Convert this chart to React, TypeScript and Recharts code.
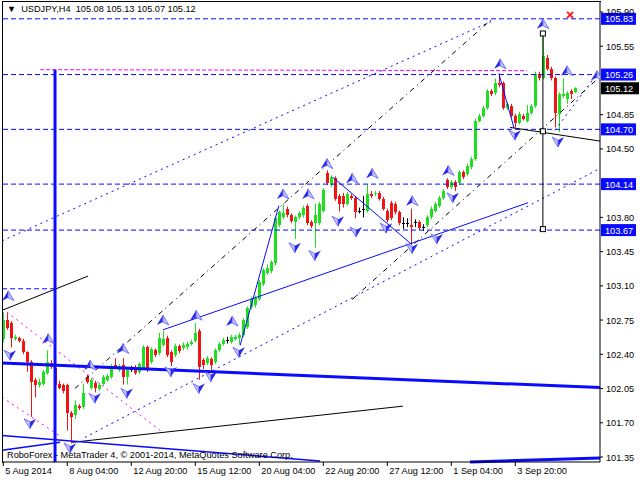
import React from 'react';
import { ComposedChart, Bar, Scatter, XAxis, YAxis, ReferenceLine, ReferenceDot } from 'recharts';

// USDJPY H4 candles
const opens = [
  102.56, 102.75, 102.72, 102.56, 102.57, 102.54, 102.42, 102.32, 102.14, 102.09,
  102.10, 102.21, 102.31, 102.26, 102.10, 102.09, 102.09, 101.80, 101.78, 101.87,
  101.86, 102.17, 102.06, 102.11, 102.05, 102.10, 102.14, 102.17, 102.29, 102.24,
  102.29, 102.17, 102.25, 102.27, 102.22, 102.26, 102.47, 102.32, 102.44, 102.41,
  102.50, 102.57, 102.42, 102.39, 102.48, 102.46, 102.47, 102.51, 102.54, 102.64,
  102.34, 102.31, 102.35, 102.32, 102.44, 102.51, 102.55, 102.53, 102.56, 102.57,
  102.60, 102.68, 102.88, 102.90, 102.97, 103.12, 103.23, 103.25, 103.33, 103.72,
  103.80, 103.89, 103.82, 103.75, 103.80, 103.82, 103.92, 103.75, 103.74, 103.74,
  103.87, 104.25, 104.13, 104.20, 104.02, 104.02, 103.94, 104.02, 104.00, 103.87,
  103.89, 103.87, 104.04, 104.04, 104.05, 103.99, 103.87, 103.95, 103.94, 103.85,
  103.74, 103.74, 103.72, 103.75, 103.75, 103.70, 103.72, 103.80, 103.87, 103.92,
  104.00, 104.18, 104.11, 104.16, 104.15, 104.26, 104.24, 104.31, 104.40, 104.79,
  104.84, 104.92, 105.09, 105.07, 105.17, 105.17, 104.92, 104.94, 104.84, 104.77,
  104.84, 104.79, 104.87, 104.94, 105.27, 105.23, 105.43, 105.32, 105.22, 104.86,
  105.04, 105.01, 105.09, 105.08,
];
const highs = [
  102.83, 102.82, 102.74, 102.60, 102.58, 102.56, 102.43, 102.34, 102.16, 102.15,
  102.24, 102.44, 102.34, 102.28, 102.13, 102.10, 102.10, 101.82, 101.93, 101.89,
  102.10, 102.19, 102.16, 102.13, 102.11, 102.19, 102.20, 102.30, 102.36, 102.30,
  102.36, 102.26, 102.28, 102.29, 102.32, 102.49, 102.49, 102.47, 102.46, 102.62,
  102.64, 102.59, 102.44, 102.51, 102.50, 102.52, 102.53, 102.55, 102.72, 102.66,
  102.36, 102.38, 102.37, 102.46, 102.53, 102.57, 102.58, 102.60, 102.60, 102.62,
  102.77, 102.89, 102.99, 103.00, 103.16, 103.28, 103.32, 103.36, 103.81, 103.87,
  103.94, 103.91, 103.84, 103.82, 103.86, 103.92, 103.94, 103.77, 103.94, 103.96,
  104.10, 104.28, 104.23, 104.22, 104.04, 104.05, 104.06, 104.04, 104.02, 103.90,
  104.02, 104.14, 104.07, 104.07, 104.07, 104.01, 103.89, 103.97, 103.96, 103.87,
  103.80, 103.79, 103.89, 103.78, 103.77, 103.73, 103.82, 103.91, 103.96, 104.02,
  104.09, 104.20, 104.18, 104.18, 104.28, 104.28, 104.35, 104.42, 104.81, 104.86,
  104.94, 105.11, 105.11, 105.22, 105.27, 105.19, 104.98, 104.96, 104.86, 104.88,
  104.86, 104.95, 104.96, 105.29, 105.29, 105.68, 105.46, 105.34, 105.24, 105.08,
  105.22, 105.09, 105.11, 105.13,
];
const lows = [
  102.52, 102.65, 102.47, 102.54, 102.52, 102.40, 102.22, 101.76, 101.96, 102.06,
  102.08, 102.19, 102.25, 102.07, 102.04, 102.00, 101.62, 101.49, 101.74, 101.83,
  101.84, 102.10, 102.04, 102.01, 102.03, 102.08, 102.12, 102.15, 102.25, 102.22,
  102.09, 102.09, 102.22, 102.19, 102.20, 102.24, 102.22, 102.30, 102.37, 102.39,
  102.48, 102.37, 102.28, 102.37, 102.41, 102.44, 102.45, 102.49, 102.52, 102.14,
  102.25, 102.29, 102.24, 102.30, 102.42, 102.49, 102.51, 102.51, 102.54, 102.50,
  102.58, 102.66, 102.86, 102.88, 102.95, 103.10, 103.21, 103.23, 103.31, 103.70,
  103.78, 103.80, 103.74, 103.58, 103.78, 103.80, 103.72, 103.69, 103.49, 103.72,
  103.85, 104.13, 104.11, 103.97, 103.86, 103.90, 103.92, 103.98, 103.79, 103.84,
  103.80, 103.85, 104.00, 104.02, 103.97, 103.87, 103.75, 103.77, 103.83, 103.72,
  103.68, 103.70, 103.53, 103.70, 103.67, 103.66, 103.70, 103.78, 103.85, 103.90,
  103.98, 104.09, 104.09, 104.07, 104.13, 104.19, 104.22, 104.29, 104.38, 104.77,
  104.82, 104.90, 105.04, 105.05, 105.13, 104.90, 104.90, 104.82, 104.72, 104.75,
  104.79, 104.77, 104.85, 104.92, 105.20, 105.21, 105.30, 105.20, 104.72, 104.67,
  105.02, 104.96, 105.01, 105.07,
];
const closes = [
  102.75, 102.67, 102.57, 102.58, 102.54, 102.42, 102.32, 102.12, 102.09, 102.12,
  102.22, 102.32, 102.27, 102.09, 102.06, 102.03, 101.80, 101.76, 101.88, 101.85,
  102.00, 102.12, 102.14, 102.06, 102.09, 102.17, 102.18, 102.28, 102.27, 102.28,
  102.17, 102.24, 102.25, 102.21, 102.30, 102.47, 102.24, 102.45, 102.39, 102.57,
  102.56, 102.39, 102.32, 102.49, 102.43, 102.50, 102.51, 102.53, 102.62, 102.27,
  102.29, 102.36, 102.29, 102.44, 102.51, 102.55, 102.55, 102.58, 102.58, 102.60,
  102.75, 102.87, 102.97, 102.98, 103.14, 103.26, 103.28, 103.34, 103.79, 103.85,
  103.84, 103.82, 103.76, 103.80, 103.84, 103.90, 103.74, 103.71, 103.82, 103.94,
  104.08, 104.15, 104.21, 103.99, 103.94, 103.94, 104.04, 104.00, 103.85, 103.87,
  103.89, 104.04, 104.02, 104.05, 103.99, 103.89, 103.77, 103.79, 103.85, 103.74,
  103.74, 103.74, 103.70, 103.75, 103.69, 103.70, 103.80, 103.89, 103.94, 104.00,
  104.07, 104.11, 104.16, 104.11, 104.26, 104.21, 104.33, 104.40, 104.79, 104.84,
  104.92, 105.09, 105.06, 105.17, 105.15, 104.92, 104.96, 104.84, 104.77, 104.86,
  104.81, 104.87, 104.94, 105.27, 105.22, 105.45, 105.32, 105.22, 104.87, 105.06,
  105.06, 105.07, 105.06, 105.12,
];

const timeTicks = [0, 16, 32, 48, 64, 80, 96, 112, 128];
const timeLabels = ['5 Aug 2014', '8 Aug 04:00', '12 Aug 20:00', '15 Aug 12:00', '20 Aug 04:00', '22 Aug 20:00', '27 Aug 12:00', '1 Sep 04:00', '3 Sep 20:00'];
const priceTicks = [105.9, 105.55, 104.85, 104.5, 103.8, 103.45, 103.1, 102.75, 102.4, 102.05, 101.7, 101.35];

const levels = [105.83, 105.26, 104.7, 104.14, 103.67];
const lastPrice = 105.12;

// fractal arrows: bar index, price
const upFractals = [
  { i: 1.2, p: 103.0 }, { i: 11.2, p: 102.56 }, { i: 21.7, p: 102.29 }, { i: 29.9, p: 102.46 },
  { i: 39.9, p: 102.75 }, { i: 48.2, p: 102.8 }, { i: 57.2, p: 102.74 }, { i: 69.9, p: 104.04 },
  { i: 76.2, p: 104.04 }, { i: 80.9, p: 104.35 }, { i: 87.2, p: 104.2 }, { i: 92.2, p: 104.25 },
  { i: 102.2, p: 103.97 }, { i: 111.2, p: 104.28 }, { i: 124.2, p: 105.37 }, { i: 134.9, p: 105.78 },
  { i: 140.9, p: 105.3 }, { i: 148.4, p: 105.25 },
];
const downFractals = [
  { i: 1.7, p: 102.39 }, { i: 6.7, p: 101.69 }, { i: 16.7, p: 101.44 }, { i: 22.9, p: 101.95 },
  { i: 30.9, p: 102.0 }, { i: 41.9, p: 102.22 }, { i: 48.9, p: 102.05 }, { i: 51.9, p: 102.17 },
  { i: 58.9, p: 102.42 }, { i: 72.9, p: 103.49 }, { i: 77.9, p: 103.41 }, { i: 83.7, p: 103.76 },
  { i: 88.2, p: 103.65 }, { i: 95.7, p: 103.69 }, { i: 102.2, p: 103.48 }, { i: 108.4, p: 103.58 },
  { i: 112.4, p: 104.0 }, { i: 127.9, p: 104.64 }, { i: 138.7, p: 104.57 },
];

// trend lines: [i1, p1, i2, p2]
type Seg = [number, number, number, number];
const thickBlueLines: Seg[] = [
  [-0.3, 102.31, 149.17, 102.06],
  [12.93, 105.31, 12.93, 101.3],
  [116.7, 101.3, 149.17, 101.34],
];
const thinBlueLines: Seg[] = [
  [-0.3, 101.57, 79.2, 101.31],
  [-0.3, 101.42, 14.2, 101.5],
  [39.9, 102.65, 131.2, 103.95],
  [59.2, 102.49, 68.9, 103.92],
  [82.4, 104.21, 102.2, 103.52],
  [123.9, 105.27, 127.7, 104.71],
];
const blackLines: Seg[] = [
  [-0.3, 102.85, 21.2, 103.2],
  [17.2, 101.5, 99.9, 101.87],
  [126.7, 104.72, 149.17, 104.58],
  [134.9, 105.68, 134.9, 103.68],
];
const blackDashLines: Seg[] = [
  [17.9, 102.05, 122.2, 105.83],
  [87.2, 102.96, 148.7, 105.22],
];
const blueDotLines: Seg[] = [
  [-0.3, 103.56, 122.9, 105.82],
  [20.4, 101.55, 149.17, 104.3],
  [137.9, 104.69, 148.7, 105.28],
  [-0.3, 103.07, 12.9, 103.07],
];
const magentaLines: Seg[] = [
  [-0.3, 102.87, 39.9, 101.6],
  [-0.3, 101.96, 14.7, 101.55],
  [9.2, 105.31, 130.9, 105.3],
];
const pivotMarks = [105.68, 104.68, 103.68];

const GREEN = '#1fe01f';
const RED = '#f01414';
const BLUE = '#0a0aff';
const FONT = "'Liberation Sans', Arial, sans-serif";

const data = opens.map((o, i) => ({ i, o, h: highs[i], l: lows[i], c: closes[i], range: [lows[i], highs[i]] }));

const Candle = (props: any) => {
  const { x, y, width, height, payload } = props;
  if (!payload) return null;
  const { o, h, l, c } = payload;
  const top = Math.min(y, y + height);
  const span = Math.abs(height);
  const toY = (v: number) => top + ((h - v) / (h - l)) * span;
  const cx = Math.round(x + width / 2);
  const doji = o === c;
  const color = doji ? '#000' : c > o ? GREEN : RED;
  const bt = Math.round(toY(Math.max(o, c)));
  const bb = Math.round(toY(Math.min(o, c)));
  return (
    <g>
      <line x1={cx + 0.5} x2={cx + 0.5} y1={top} y2={top + span} stroke={color} strokeWidth={1} />
      {doji ? (
        <line x1={cx - 1} x2={cx + 2} y1={bt + 0.5} y2={bt + 0.5} stroke="#000" strokeWidth={1} />
      ) : (
        <rect x={cx - 1} y={bt} width={3} height={Math.max(1, bb - bt)} fill={color} />
      )}
    </g>
  );
};

const UpArrow = (props: any) => {
  const { cx, cy } = props;
  return (
    <g>
      <path d={`M${cx},${cy - 5} L${cx - 6},${cy + 5} L${cx},${cy + 2} Z`} fill="#2a2ae8" />
      <path d={`M${cx},${cy - 5} L${cx + 6},${cy + 5} L${cx},${cy + 2} Z`} fill="#c4c4ff" stroke="#5a5aff" strokeWidth={0.8} />
    </g>
  );
};

const DownArrow = (props: any) => {
  const { cx, cy } = props;
  return (
    <g>
      <path d={`M${cx},${cy + 5} L${cx - 6},${cy - 5} L${cx},${cy - 2} Z`} fill="#c4c4ff" stroke="#5a5aff" strokeWidth={0.8} />
      <path d={`M${cx},${cy + 5} L${cx + 6},${cy - 5} L${cx},${cy - 2} Z`} fill="#2a2ae8" />
    </g>
  );
};

const XTick = (props: any) => {
  const { x, payload } = props;
  const k = timeTicks.indexOf(payload.value);
  return (
    <g>
      <line x1={x} x2={x} y1={462} y2={466} stroke="#000" />
      <text x={x + 2} y={474} fontSize={9.2} fontFamily={FONT} fill="#000">{timeLabels[k]}</text>
    </g>
  );
};

const YTick = (props: any) => {
  const { y, payload } = props;
  return (
    <g>
      <line x1={600} x2={603} y1={y} y2={y} stroke="#000" />
      <text x={606} y={y + 3.5} fontSize={9.2} fontFamily={FONT} fill="#000">{payload.value.toFixed(2)}</text>
    </g>
  );
};

const PriceTag = (props: any) => {
  const { viewBox, text, fill } = props;
  const y = viewBox.y;
  return (
    <g>
      <rect x={601} y={y - 6} width={fill === '#000' ? 38 : 35} height={12} fill={fill} />
      <text x={605} y={y + 3.5} fontSize={9.2} fontFamily={FONT} fill="#fff">{text}</text>
    </g>
  );
};

const Square = (props: any) => {
  const { cx, cy } = props;
  return <rect x={cx - 2.5} y={cy - 2.5} width={5} height={5} fill="#fff" stroke="#000" strokeWidth={1} />;
};

const RedCross = (props: any) => {
  const { cx, cy } = props;
  return (
    <g stroke="#ff2020" strokeWidth={2}>
      <line x1={cx - 3} y1={cy - 3} x2={cx + 3} y2={cy + 3} />
      <line x1={cx - 3} y1={cy + 3} x2={cx + 3} y2={cy - 3} />
    </g>
  );
};

const seg = (s: Seg) => [{ x: s[0], y: s[1] }, { x: s[2], y: s[3] }] as any;

export default function App() {
  return (
    <div style={{ position: 'absolute', left: 0, top: 0, width: 640, height: 480, background: '#fff' }}>
      <ComposedChart width={640} height={480} data={data} margin={{ top: 2, right: 0, bottom: 0, left: 2 }}>
        <XAxis
          dataKey="i"
          type="number"
          domain={[-0.325, 149.175]}
          allowDataOverflow
          ticks={timeTicks}
          interval={0}
          tick={<XTick />}
          tickLine={false}
          axisLine={{ stroke: '#000' }}
          height={18}
        />
        <YAxis
          orientation="right"
          type="number"
          domain={[101.299, 106.002]}
          allowDataOverflow
          ticks={priceTicks}
          interval={0}
          tick={<YTick />}
          tickLine={false}
          axisLine={{ stroke: '#000' }}
          width={40}
        />
        {levels.map((v) => (
          <ReferenceLine
            key={v}
            y={v}
            stroke={BLUE}
            strokeDasharray="5 3"
            ifOverflow="visible"
            label={<PriceTag text={v.toFixed(2)} fill={BLUE} />}
          />
        ))}
        {magentaLines.map((s, k) => (
          <ReferenceLine key={'m' + k} segment={seg(s)} stroke="#ff00ff" strokeDasharray={k === 2 ? '4 2' : '2 4'} ifOverflow="visible" />
        ))}
        {blueDotLines.map((s, k) => (
          <ReferenceLine key={'d' + k} segment={seg(s)} stroke={BLUE} strokeDasharray={k === 3 ? '5 3' : '2 4'} ifOverflow="visible" />
        ))}
        {blackDashLines.map((s, k) => (
          <ReferenceLine key={'k' + k} segment={seg(s)} stroke="#000" strokeDasharray="5 4 1 4" ifOverflow="visible" />
        ))}
        {blackLines.map((s, k) => (
          <ReferenceLine key={'b' + k} segment={seg(s)} stroke="#000" strokeWidth={1} ifOverflow="visible" />
        ))}
        {thinBlueLines.map((s, k) => (
          <ReferenceLine key={'t' + k} segment={seg(s)} stroke={BLUE} strokeWidth={k < 2 ? 1.5 : 1} ifOverflow="visible" />
        ))}
        {thickBlueLines.map((s, k) => (
          <ReferenceLine key={'T' + k} segment={seg(s)} stroke={BLUE} strokeWidth={3} ifOverflow="visible" />
        ))}
        <Bar dataKey="range" barSize={3} shape={Candle} isAnimationActive={false} />
        <Scatter data={upFractals} dataKey="p" shape={UpArrow} isAnimationActive={false} />
        <Scatter data={downFractals} dataKey="p" shape={DownArrow} isAnimationActive={false} />
        {pivotMarks.map((p) => (
          <ReferenceDot key={p} x={134.9} y={p} ifOverflow="visible" shape={Square} />
        ))}
        <ReferenceDot x={141.7} y={105.87} ifOverflow="visible" shape={RedCross} />
        <ReferenceLine
          y={lastPrice}
          stroke="none"
          ifOverflow="visible"
          label={<PriceTag text={lastPrice.toFixed(2)} fill="#000" />}
        />
      </ComposedChart>
      <div style={{ position: 'absolute', left: 2, top: 1, width: 598, height: 461, borderTop: '1px solid #000', borderLeft: '1px solid #000', pointerEvents: 'none' }} />
      <div style={{ position: 'absolute', left: 7, top: 4, fontFamily: FONT, fontSize: 9.2, color: '#000', whiteSpace: 'pre' }}>
        {'\u25BC  USDJPY,H4  105.08 105.13 105.07 105.12'}
      </div>
      <div style={{ position: 'absolute', left: 7, top: 450, fontFamily: FONT, fontSize: 9.2, color: '#000', whiteSpace: 'pre' }}>
        {'RoboForex - MetaTrader 4, \u00A9 2001-2014, MetaQuotes Software Corp.'}
      </div>
    </div>
  );
}
